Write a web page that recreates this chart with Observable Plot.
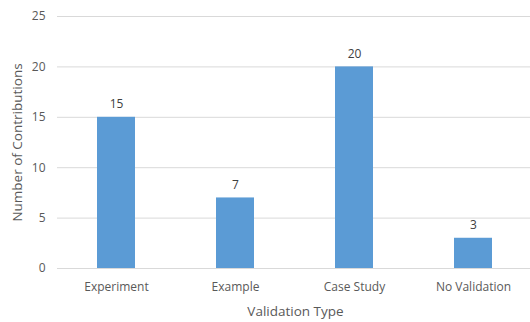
<!DOCTYPE html>
<html><head><meta charset="utf-8">
<script src="https://cdn.jsdelivr.net/npm/d3@7"></script>
<script src="https://cdn.jsdelivr.net/npm/@observablehq/plot@0.6"></script>
<style>body{margin:0;background:#fff}</style>
</head><body><div id="chart"></div>
<script>
const categories = ["Experiment", "Example", "Case Study", "No Validation"];
const values = [15, 7, 20, 3];
const yTicks = [0, 5, 10, 15, 20, 25];
const data = categories.map((c, i) => ({category: c, value: values[i]}));
const font = "'Open Sans', 'Liberation Sans', sans-serif";
const chart = Plot.plot({
  width: 530, height: 322,
  marginLeft: 57, marginRight: -3, marginTop: 16, marginBottom: 54,
  style: {fontFamily: font, fontSize: "12px", color: "#595959", background: "#fff"},
  x: {domain: categories, paddingInner: 0.68, paddingOuter: 0.34, label: null},
  y: {domain: [0, 25], ticks: yTicks, label: null},
  marks: [
    Plot.gridY(yTicks, {stroke: "#d9d9d9", strokeOpacity: 1}),
    Plot.barY(data, {x: "category", y: "value", fill: "#5B9BD5"}),
    Plot.text(data, {x: "category", y: "value", text: d => String(d.value), dy: -13, fill: "#404040", fontSize: 12}),
    Plot.axisX({tickSize: 0, tickPadding: 14, label: null, fontSize: 12}),
    Plot.axisY({ticks: yTicks, tickSize: 0, tickPadding: 12, label: null, fontSize: 12}),
    Plot.text(["Validation Type"], {frameAnchor: "bottom", dy: 47, fontSize: 13.5, fill: "#595959"}),
    Plot.text(["Number of Contributions"], {frameAnchor: "left", textAnchor: "middle", dx: -40, rotate: -90, fontSize: 13.5, fill: "#595959"})
  ]
});
document.getElementById("chart").appendChild(chart);
</script></body></html>
